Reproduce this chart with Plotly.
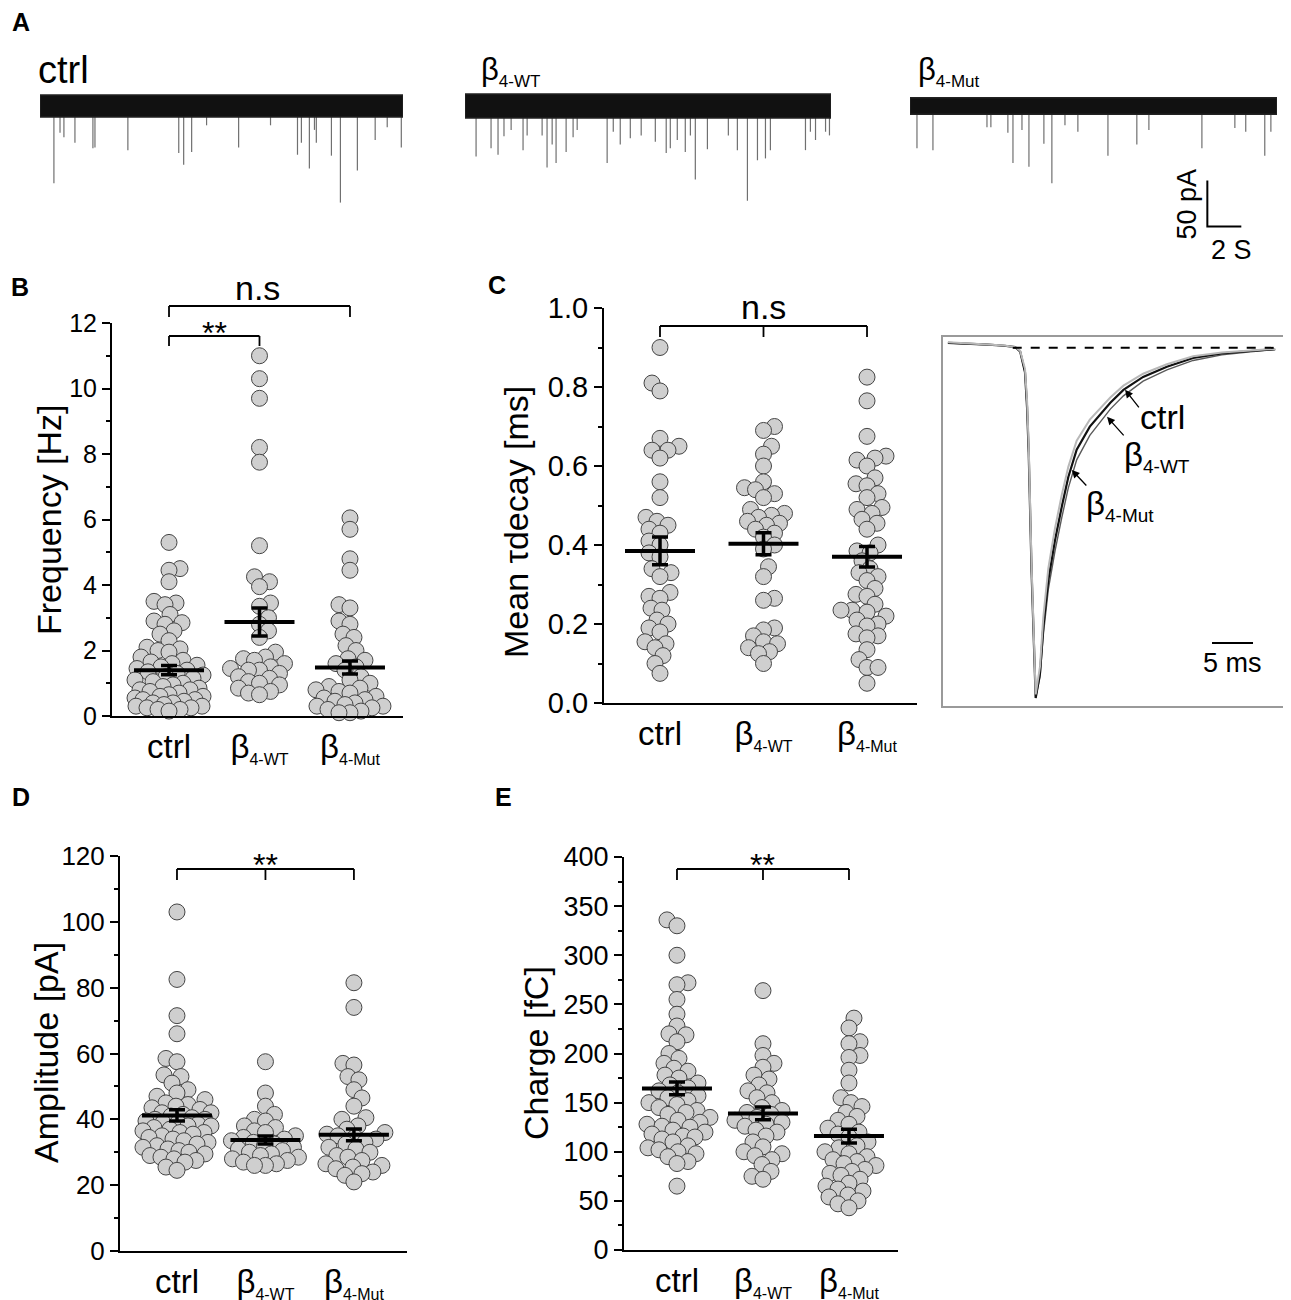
import plotly.graph_objects as go

W, H = 1291, 1300
FONT = "Liberation Sans, Arial, sans-serif"
# the page body adds a small margin around the figure
OFF_X, OFF_Y = 8, 8

# ---------------- data ----------------
group_labels = ["ctrl",
                "β<sub><span style='font-size:16px'>4-WT</span></sub>",
                "β<sub><span style='font-size:16px'>4-Mut</span></sub>"]

# Panel A: example recordings, events as (time s, amplitude pA)
trace_dur = [21.4, 21.5, 21.6]
trace_noise = [12, 13, 9]
ctrl_ev_t = [0.82, 1.18, 1.41, 2.06, 3.12, 3.24, 5.18, 8.18, 8.47, 8.94, 9.82, 11.71, 13.59,
             15.18, 15.41, 15.88, 16.18, 16.29, 17.18, 17.71, 18.71, 19.76, 20.47, 21.3]
ctrl_ev_amp = [84, 29, 34, 40, 46, 45, 48, 51, 64, 50, 21, 45, 21,
               53, 40, 68, 26, 40, 54, 105, 70, 37, 23, 45]
wt_ev_t = [0.65, 1.53, 1.94, 2.29, 2.71, 3.41, 3.65, 4.53, 4.82, 5.12, 5.35, 5.94, 6.35, 6.59,
           8.35, 8.71, 9.12, 9.71, 10.35, 11.18, 11.82, 12.06, 12.47, 12.94, 13.24, 13.53,
           14.24, 15.47, 16.0, 16.59, 17.18, 17.65, 17.94, 20.0, 20.29, 20.59, 21.18, 21.41]
wt_ev_amp = [55, 46, 53, 33, 26, 48, 32, 32, 67, 42, 62, 50, 34, 26,
             62, 28, 42, 35, 32, 39, 51, 46, 37, 50, 32, 80,
             47, 32, 48, 103, 59, 57, 48, 48, 28, 37, 28, 32]
mut_ev_t = [0.41, 1.35, 4.53, 4.76, 5.76, 6.06, 6.59, 7.0, 7.88, 8.35, 9.12, 9.88, 11.65,
            13.35, 14.06, 17.18, 19.12, 19.76, 20.88, 21.24]
mut_ev_amp = [46, 48, 23, 23, 29, 62, 26, 66, 41, 84, 21, 28, 54,
              42, 26, 46, 24, 28, 54, 28]

# Panel B: frequency [Hz]
freq_ctrl = [5.3, 4.5, 4.45, 4.1, 3.5, 3.45, 3.4, 3.1, 2.9, 2.85, 2.8, 2.6, 2.5, 2.3, 2.1, 2.05,
             2.0, 1.95, 1.8, 1.7, 1.65, 1.6, 1.55, 1.5, 1.45, 1.4, 1.35, 1.3, 1.25, 1.2, 1.15,
             1.1, 1.05, 1.0, 0.95, 0.9, 0.85, 0.8, 0.8, 0.75, 0.7, 0.65, 0.6, 0.6, 0.55, 0.5,
             0.5, 0.45, 0.4, 0.4, 0.35, 0.3, 0.3, 0.25, 0.25, 0.2, 0.2, 0.15]
freq_wt = [11.0, 10.3, 9.7, 8.2, 7.75, 5.2, 4.25, 4.1, 3.95, 3.45, 3.35, 3.0, 2.8, 2.6, 2.4,
           1.95, 1.8, 1.75, 1.7, 1.6, 1.5, 1.45, 1.4, 1.4, 1.3, 1.2, 1.15, 1.05, 1.0, 0.95,
           0.85, 0.75, 0.7, 0.65]
freq_mut = [6.05, 5.7, 4.8, 4.45, 3.4, 3.3, 2.9, 2.8, 2.5, 2.4, 2.15, 2.0, 1.75, 1.7, 1.6, 1.5,
            1.4, 1.2, 1.1, 1.0, 0.9, 0.85, 0.8, 0.75, 0.7, 0.6, 0.55, 0.5, 0.45, 0.4, 0.35,
            0.3, 0.3, 0.25, 0.2, 0.15, 0.1, 0.1]
freq_mean = [1.40, 2.87, 1.48]
freq_sem = [0.14, 0.43, 0.20]

# Panel C: mean tau decay [ms]
tau_ctrl = [0.9, 0.81, 0.79, 0.67, 0.65, 0.64, 0.64, 0.62, 0.56, 0.52, 0.47, 0.46, 0.45, 0.44,
            0.43, 0.41, 0.40, 0.38, 0.37, 0.34, 0.33, 0.32, 0.28, 0.27, 0.265, 0.24, 0.235,
            0.21, 0.2, 0.19, 0.18, 0.155, 0.15, 0.14, 0.12, 0.1, 0.075]
tau_wt = [0.70, 0.69, 0.65, 0.63, 0.6, 0.56, 0.545, 0.54, 0.53, 0.52, 0.49, 0.48, 0.475, 0.47,
          0.46, 0.455, 0.45, 0.44, 0.43, 0.42, 0.40, 0.39, 0.345, 0.32, 0.265, 0.26, 0.19,
          0.185, 0.17, 0.155, 0.15, 0.14, 0.13, 0.125, 0.1]
tau_mut = [0.825, 0.765, 0.675, 0.625, 0.62, 0.615, 0.6, 0.57, 0.555, 0.55, 0.53, 0.52, 0.495,
           0.49, 0.48, 0.465, 0.455, 0.44, 0.40, 0.385, 0.38, 0.36, 0.34, 0.33, 0.32, 0.31,
           0.29, 0.275, 0.27, 0.25, 0.235, 0.235, 0.23, 0.22, 0.21, 0.2, 0.195, 0.175, 0.17,
           0.165, 0.135, 0.11, 0.09, 0.09, 0.05]
tau_mean = [0.385, 0.403, 0.370]
tau_sem = [0.035, 0.028, 0.026]

# Panel C inset: normalised average events (time ms, normalised current)
inset_t = [0.6, 3.0, 5.5, 7.5, 8.8, 9.4, 10.0, 10.25, 10.45, 10.8, 11.3, 11.83, 12.23, 12.84,
           13.66, 14.48, 15.28, 16.3, 17.9, 20.4, 22.0, 24.4, 27.3, 30.5, 34.0, 37.5, 40.5]
inset_ctrl = [0.014, 0.012, 0.009, 0.006, 0.002, -0.01, -0.07, -0.17, -0.3, -0.64, -1.0,
              -0.929, -0.797, -0.663, -0.549, -0.454, -0.369, -0.291, -0.225, -0.157, -0.12,
              -0.083, -0.054, -0.029, -0.016, -0.009, -0.004]
inset_wt = [0.014, 0.012, 0.009, 0.006, 0.002, -0.01, -0.07, -0.17, -0.3, -0.64, -1.0,
            -0.94, -0.82, -0.69, -0.58, -0.485, -0.40, -0.32, -0.25, -0.175, -0.137,
            -0.095, -0.063, -0.036, -0.02, -0.011, -0.005]
inset_mut = [0.016, 0.013, 0.010, 0.007, 0.002, -0.008, -0.06, -0.15, -0.28, -0.62, -0.99,
             -0.91, -0.77, -0.63, -0.515, -0.42, -0.34, -0.265, -0.205, -0.142, -0.108,
             -0.074, -0.047, -0.024, -0.013, -0.007, -0.003]

# Panel D: amplitude [pA]
amp_ctrl = [103, 82.5, 71.5, 66, 58.5, 57.5, 53.5, 53, 51, 49, 48, 47, 46, 45, 44.5, 44, 43.5,
            43, 42, 42, 41.5, 41, 40.5, 40, 40, 39.5, 39, 39, 38.5, 38, 38, 37.5, 37, 36.5,
            36, 36, 35.5, 35, 34.5, 34, 33.5, 33, 32.5, 32, 31.5, 31, 30.5, 30, 29.5, 29,
            28.5, 28, 27.5, 27, 25.5, 24.5]
amp_wt = [57.5, 48, 44, 41.5, 40, 39.5, 38, 37.5, 36.5, 36, 35, 34.5, 34, 33.5, 33, 32.5, 32,
          31.5, 31, 30.5, 30, 29.5, 29, 28.5, 28, 27.5, 27, 26.5, 26, 26]
amp_mut = [81.5, 74, 57, 56.5, 53, 52, 49, 46.5, 44, 40.5, 40, 38, 37, 36, 35.5, 35, 34.5, 34,
           33, 32.5, 31.5, 31, 30, 29, 28.5, 27.5, 26.5, 26, 25.5, 25, 24, 23.5, 23, 21]
amp_mean = [41.2, 33.7, 35.3]
amp_sem = [1.7, 1.2, 1.8]

# Panel E: charge [fC]
chg_ctrl = [336, 330, 300, 272, 270, 255, 240, 228, 220, 219, 212, 200, 195, 190, 185, 182,
            178, 175, 170, 168, 165, 162, 160, 157, 155, 152, 150, 148, 145, 142, 140, 138,
            135, 132, 130, 128, 126, 125, 122, 120, 118, 116, 115, 113, 110, 106, 104, 102,
            100, 98, 95, 90, 88, 65]
chg_wt = [264, 210, 198, 190, 186, 178, 174, 168, 162, 160, 155, 150, 145, 142, 140, 138, 135,
          132, 130, 128, 126, 122, 120, 116, 110, 105, 100, 98, 96, 92, 87, 80, 75, 72]
chg_mut = [236, 226, 212, 210, 198, 196, 183, 170, 155, 150, 146, 140, 136, 132, 128, 124, 120,
           118, 115, 110, 106, 104, 100, 98, 95, 92, 90, 88, 86, 82, 80, 78, 76, 72, 68, 65,
           62, 60, 56, 54, 50, 47, 43]
chg_mean = [164.5, 139.0, 116.0]
chg_sem = [6.5, 6.5, 7.0]


# ---------------- helpers ----------------
def fx(x):
    return (x - OFF_X) / W


def fy(y):
    return 1 - (y - OFF_Y) / H


def xdom(x0, x1):
    return [fx(x0), fx(x1)]


def ydom(top, bottom):
    return [fy(bottom), fy(top)]


def swarm(values, px_per_unit, min_dist=11.0, max_off=34):
    # simple beeswarm: offsets (px) so circles do not pile on top of each other
    order = sorted(range(len(values)), key=lambda i: values[i])
    placed = []
    offs = [0.0] * len(values)
    for n, i in enumerate(order):
        y = values[i] * px_per_unit
        sign = 1 if n % 2 else -1
        cands = sorted(range(-max_off, max_off + 1), key=lambda o: (abs(o), sign * o))
        best, best_d, fallback = None, -1.0, 0
        for o in cands:
            d = min([((o - px) ** 2 + (y - py) ** 2) ** 0.5 for px, py in placed] or [1e9])
            if d >= min_dist:
                best = o
                break
            if d > best_d:
                best_d, fallback = d, o
        if best is None:
            best = fallback
        placed.append((best, y))
        offs[i] = best
    return offs


fig = go.Figure()
annotations = []
shapes = []


def label(x, y, text, size, xref="paper", yref="paper", angle=0):
    annotations.append(dict(x=x, y=y, xref=xref, yref=yref, text=text, textangle=angle,
                            showarrow=False, xanchor="center", yanchor="middle",
                            font=dict(size=size)))


# ---------------- Panel A ----------------
a_doms = [xdom(40, 403), xdom(465, 831), xdom(910, 1277)]
a_events = [(ctrl_ev_t, ctrl_ev_amp), (wt_ev_t, wt_ev_amp), (mut_ev_t, mut_ev_amp)]
a_yrange = [-167.4, 22.8]
for k in range(3):
    xa = "x" if k == 0 else "x%d" % (k + 1)
    ya = "y" if k == 0 else "y%d" % (k + 1)
    T, nz = trace_dur[k], trace_noise[k]
    ev_t, ev_a = a_events[k]
    ex, ey = [], []
    for t, a in zip(ev_t, ev_a):
        ex += [t, t, None]
        ey += [-nz, -a, None]
    fig.add_trace(go.Scatter(x=ex, y=ey, mode="lines", line=dict(color="#707070", width=1.2),
                             xaxis=xa, yaxis=ya, hoverinfo="skip"))
    fig.add_trace(go.Scatter(x=[0, T, T, 0, 0], y=[nz, nz, -nz, -nz, nz], mode="lines",
                             fill="toself", fillcolor="#111111", line=dict(color="#222222", width=1.5),
                             xaxis=xa, yaxis=ya, hoverinfo="skip"))
    key = "" if k == 0 else str(k + 1)
    fig.layout["xaxis" + key] = dict(domain=a_doms[k], range=[0, T], visible=False,
                                     anchor="y" + key, automargin=False)
    fig.layout["yaxis" + key] = dict(domain=ydom(85, 260), range=a_yrange, visible=False,
                                     anchor="x" + key, automargin=False)

# scale bar 50 pA / 2 s on the last recording
fig.add_trace(go.Scatter(x=[17.5, 17.5, 19.5], y=[-81, -131, -131], mode="lines",
                         line=dict(color="black", width=2), xaxis="x3", yaxis="y3",
                         hoverinfo="skip"))
label(16.3, -106, "50 pA", 27, "x3", "y3", angle=-90)
label(18.9, -157, "2 S", 27, "x3", "y3")

a_label_pos = [(64, 70), (511, 72), (949, 72)]
a_label_txt = ["ctrl",
               "β<sub><span style='font-size:17px'>4-WT</span></sub>",
               "β<sub><span style='font-size:17px'>4-Mut</span></sub>"]
a_label_size = [38, 31, 31]
for (px_, py_), txt, sz in zip(a_label_pos, a_label_txt, a_label_size):
    label(fx(px_), fy(py_), txt, sz)

# ---------------- scatter panels ----------------
panels = [
    dict(key="4", vals=[freq_ctrl, freq_wt, freq_mut], mean=freq_mean, sem=freq_sem,
         xd=(112, 403), yd=(323, 716), xr=[-0.63, 2.586], yr=[0, 12], dtick=2, minor=1,
         tfs=25, title="Frequency [Hz]", tpos=(49, 520)),
    dict(key="5", vals=[tau_ctrl, tau_wt, tau_mut], mean=tau_mean, sem=tau_sem,
         xd=(604, 917), yd=(308, 703), xr=[-0.541, 2.483], yr=[0, 1], dtick=0.2, minor=0.1,
         tfs=29, title="Mean τdecay [ms]", tpos=(516, 522), fmt=".1f"),
    dict(key="7", vals=[amp_ctrl, amp_wt, amp_mut], mean=amp_mean, sem=amp_sem,
         xd=(120, 407), yd=(856, 1251), xr=[-0.644, 2.6], yr=[0, 120], dtick=20, minor=10,
         tfs=26, title="Amplitude [pA]", tpos=(46, 1053)),
    dict(key="8", vals=[chg_ctrl, chg_wt, chg_mut], mean=chg_mean, sem=chg_sem,
         xd=(624, 898), yd=(857, 1250), xr=[-0.616, 2.57], yr=[0, 400], dtick=50, minor=25,
         tfs=27, title="Charge [fC]", tpos=(536, 1053)),
]

for p in panels:
    k = p["key"]
    xa, ya = "x" + k, "y" + k
    x_px = (p["xd"][1] - p["xd"][0]) / (p["xr"][1] - p["xr"][0])
    y_px = (p["yd"][1] - p["yd"][0]) / (p["yr"][1] - p["yr"][0])
    for g, vals in enumerate(p["vals"]):
        offs = swarm(vals, y_px)
        fig.add_trace(go.Scatter(
            x=[g + o / x_px for o in offs], y=vals, mode="markers", cliponaxis=False,
            marker=dict(size=16, color="#cfcfcf", line=dict(color="#444444", width=1)),
            xaxis=xa, yaxis=ya, hoverinfo="skip"))
    fig.add_trace(go.Scatter(
        x=[0, 1, 2], y=p["mean"], mode="markers", cliponaxis=False,
        marker=dict(symbol="line-ew", size=50, line=dict(color="black", width=4)),
        error_y=dict(type="data", array=p["sem"], color="black", thickness=3.5, width=8),
        xaxis=xa, yaxis=ya, hoverinfo="skip"))
    fig.layout["xaxis" + k] = dict(
        domain=xdom(*p["xd"]), range=p["xr"], anchor=ya, showline=True, linecolor="black",
        linewidth=2, ticks="", tickvals=[0, 1, 2], ticktext=group_labels,
        tickfont=dict(size=33, color="black"), ticklabelstandoff=0, showgrid=False,
        zeroline=False, automargin=False)
    fig.layout["yaxis" + k] = dict(
        domain=ydom(*p["yd"]), range=p["yr"], anchor=xa, showline=True, linecolor="black",
        linewidth=2, ticks="outside", ticklen=8, tickwidth=2, tickcolor="black",
        dtick=p["dtick"], tick0=0, tickformat=p.get("fmt", ""),
        minor=dict(ticks="outside", ticklen=4, tickwidth=2, tickcolor="black", dtick=p["minor"]),
        tickfont=dict(size=p["tfs"], color="black"), showgrid=False, zeroline=False,
        automargin=False)
    label(fx(p["tpos"][0]), fy(p["tpos"][1]), p["title"], 34, angle=-90)


# significance brackets
def bracket(xa, x0, x1, mid, ybar, ytip, text, lx, ly, size):
    for xx in [x0, x1] + ([mid] if mid is not None else []):
        shapes.append(dict(type="line", xref=xa, yref="paper", x0=xx, x1=xx,
                           y0=fy(ybar), y1=fy(ytip), line=dict(color="black", width=1.8)))
    shapes.append(dict(type="line", xref=xa, yref="paper", x0=x0, x1=x1,
                       y0=fy(ybar), y1=fy(ybar), line=dict(color="black", width=1.8)))
    label(lx, fy(ly), text, size, xref=xa)


bracket("x4", 0, 2, None, 306, 317, "n.s", 0.98, 288, 34)
bracket("x4", 0, 1, None, 336, 346, "**", 0.5, 333, 32)
bracket("x5", 0, 2, 1, 326, 337, "n.s", 1, 307, 34)
bracket("x7", 0, 2, 1, 869, 880, "**", 1, 865, 32)
bracket("x8", 0, 2, 1, 869, 880, "**", 1, 865, 32)

# ---------------- Panel C inset ----------------
inset_cols = [("#5a5a5a", 1.4, inset_wt), ("#111111", 2.2, inset_ctrl), ("#b8b8b8", 2.0, inset_mut)]
for col, wd, vals in inset_cols:
    fig.add_trace(go.Scatter(x=inset_t, y=vals, mode="lines", line=dict(color=col, width=wd),
                             xaxis="x6", yaxis="y6", hoverinfo="skip"))
fig.add_trace(go.Scatter(x=[8.5, 40.5], y=[0, 0], mode="lines",
                         line=dict(color="black", width=2, dash="dash"),
                         xaxis="x6", yaxis="y6", hoverinfo="skip"))
fig.add_trace(go.Scatter(x=[32.8, 37.8], y=[-0.843, -0.843], mode="lines",
                         line=dict(color="black", width=2), xaxis="x6", yaxis="y6",
                         hoverinfo="skip"))
label(35.3, -0.9, "5 ms", 27, "x6", "y6")
fig.layout["xaxis6"] = dict(domain=xdom(943, 1285), range=[0, 41.7], anchor="y6",
                            showline=True, mirror=True, linecolor="#9a9a9a", linewidth=1.5,
                            showticklabels=False, ticks="", showgrid=False, zeroline=False,
                            automargin=False)
fig.layout["yaxis6"] = dict(domain=ydom(337, 706), range=[-1.023, 0.031], anchor="x6",
                            showline=True, mirror=True, linecolor="#9a9a9a", linewidth=1.5,
                            showticklabels=False, ticks="", showgrid=False, zeroline=False,
                            automargin=False)
inset_arrows = [(22.2, -0.12, 15, 19), (20.0, -0.197, 18, 20), (15.7, -0.349, 16, 17)]
for tx, ty, ax_, ay_ in inset_arrows:
    annotations.append(dict(x=tx, y=ty, xref="x6", yref="y6", text="", showarrow=True,
                            ax=ax_, ay=ay_, arrowhead=2, arrowsize=1.2, arrowwidth=1.3,
                            arrowcolor="black"))
label(26.8, -0.197, "ctrl", 34, "x6", "y6")
label(26.1, -0.311, "β<sub><span style='font-size:19px'>4-WT</span></sub>", 33, "x6", "y6")
label(21.6, -0.449, "β<sub><span style='font-size:19px'>4-Mut</span></sub>", 33, "x6", "y6")

# panel letters
for letter, (px_, py_) in zip("ABCDE", [(21, 22), (20, 287), (497, 285), (21, 797), (503, 797)]):
    label(fx(px_), fy(py_), "<b>%s</b>" % letter, 25)

fig.update_layout(
    width=W, height=H, margin=dict(l=0, r=0, t=0, b=0, autoexpand=False),
    paper_bgcolor="white", plot_bgcolor="rgba(0,0,0,0)", showlegend=False,
    font=dict(family=FONT, color="black"),
    annotations=annotations, shapes=shapes,
)

fig.write_html("out.html")
